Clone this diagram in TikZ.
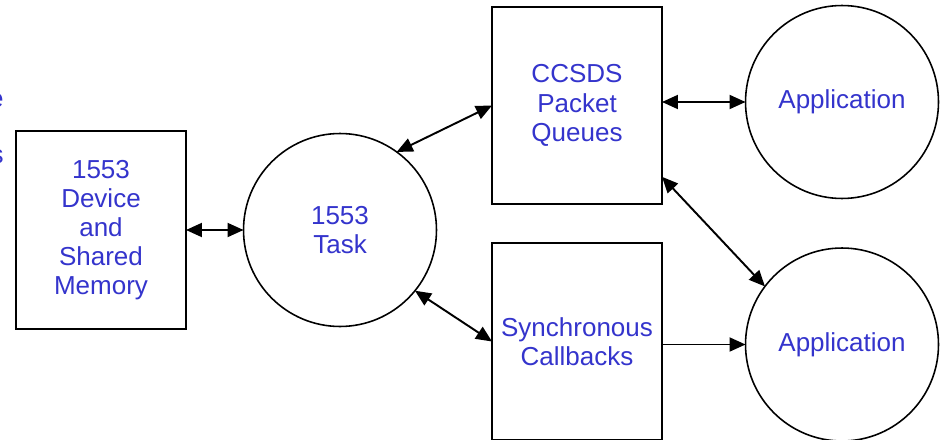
\documentclass[tikz,border=0pt]{standalone}
\usepackage{fontspec}
\setmainfont{Liberation Sans}
\usetikzlibrary{arrows.meta}
\definecolor{labelblue}{RGB}{52,52,204}
\tikzset{
  box/.style={draw,line width=1.3pt,rectangle,minimum width=3.4cm,minimum height=3.95cm,inner sep=0pt,outer sep=0pt,align=center,text=labelblue,font=\fontsize{14.8}{16.6}\selectfont},
  proc/.style={draw,line width=0.9pt,circle,minimum size=3.86cm,inner sep=0pt,outer sep=0pt,align=center,text=labelblue,font=\fontsize{14.8}{16.6}\selectfont},
  link/.style={line width=1.1pt,{Triangle[length=0.32cm,width=0.28cm]}-{Triangle[length=0.32cm,width=0.28cm]}},
  feed/.style={line width=1.1pt,-{Triangle[length=0.32cm,width=0.28cm]}}
}
\begin{document}
\begin{tikzpicture}[x=0.02cm,y=-0.02cm]
\useasboundingbox (0,0) rectangle (942,439);
\clip (0,0) rectangle (942,439);

% text running in from the left margin
\node[anchor=east,inner sep=0pt,text=labelblue,font=\fontsize{14.8}{16.6}\selectfont] at (4,101) (cutA) {e};
\node[anchor=east,inner sep=0pt,text=labelblue,font=\fontsize{14.8}{16.6}\selectfont] at (4,157) (cutB) {s};

\node[box] at (101,230) (dev) {1553\\Device\\and\\Shared\\Memory};
\node[proc] at (340,230) (task) {1553\\Task};

\node[box] at (577,105.5) (ccsds) {CCSDS\\Packet\\Queues};
\node[box] at (577,341.5) (sync) {Synchronous\\Callbacks};

\node[proc] at (842,102) (appA) {Application};
\node[proc] at (842,344.5) (appB) {Application};

%%%%%%%%%%%%%%%%%%%%%%%%%%%%%%%%%%%%%%
\draw[link] (dev.east) -- (task.west);
\draw[link] (task.54) -- (ccsds.west);
\draw[link] (task.-39) -- (sync.west);

\draw[link] (appA.west -| ccsds.east) -- (appA.west);
\draw[link] (ccsds.-40.5) -- (appB.143.5);
\draw[feed] (appB.west -| sync.east) -- (appB.west);

\end{tikzpicture}
\end{document}
